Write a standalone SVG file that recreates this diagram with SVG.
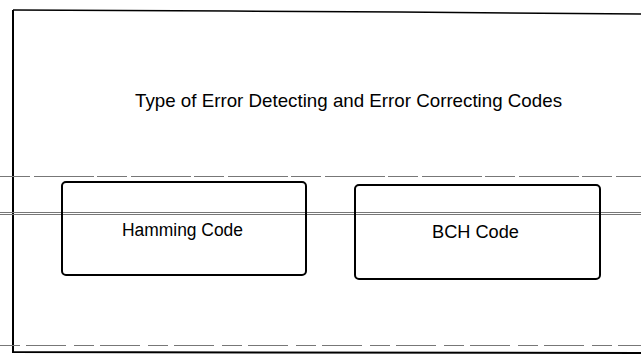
<svg xmlns="http://www.w3.org/2000/svg" width="641" height="360" viewBox="0 0 641 360">
<style>
.box{fill:none;stroke:#000;stroke-width:2}
.lbl{font-family:"Liberation Sans",Arial,sans-serif;fill:#000}
.rule{stroke:#777;stroke-width:1;fill:none}
</style>
<rect width="641" height="360" fill="#fff"/>
<g id="frame">
<path d="M13,10 L13,352 L641,353" fill="none" stroke="#000" stroke-width="2"/>
<path d="M13,10 L230,11 L400,12 L641,14" fill="none" stroke="#000" stroke-width="1.5"/>
<path class="rule" d="M0,176.5 H641" stroke-dasharray="30 4 60 3" stroke="#aaa"/>
<path class="rule" d="M0,212.5 H641 M0,214.5 H641"/>
<path class="rule" d="M0,345.5 H641" stroke-dasharray="20 6 40 8" stroke="#ccc"/>
</g>
<g id="title">
<text class="lbl" x="135" y="107" textLength="427" lengthAdjust="spacingAndGlyphs" font-size="19">Type of Error Detecting and Error Correcting Codes</text>
</g>
<g id="connectors"></g>
<g id="hamming">
<rect class="box" x="62" y="182" width="244" height="93" rx="4"/>
<text class="lbl" x="122" y="236" textLength="121" lengthAdjust="spacingAndGlyphs" font-size="18">Hamming  Code</text>
</g>
<g id="bch">
<rect class="box" x="355" y="185" width="245" height="94" rx="4"/>
<text class="lbl" x="432" y="238" textLength="87" lengthAdjust="spacingAndGlyphs" font-size="18">BCH  Code</text>
</g>
</svg>
